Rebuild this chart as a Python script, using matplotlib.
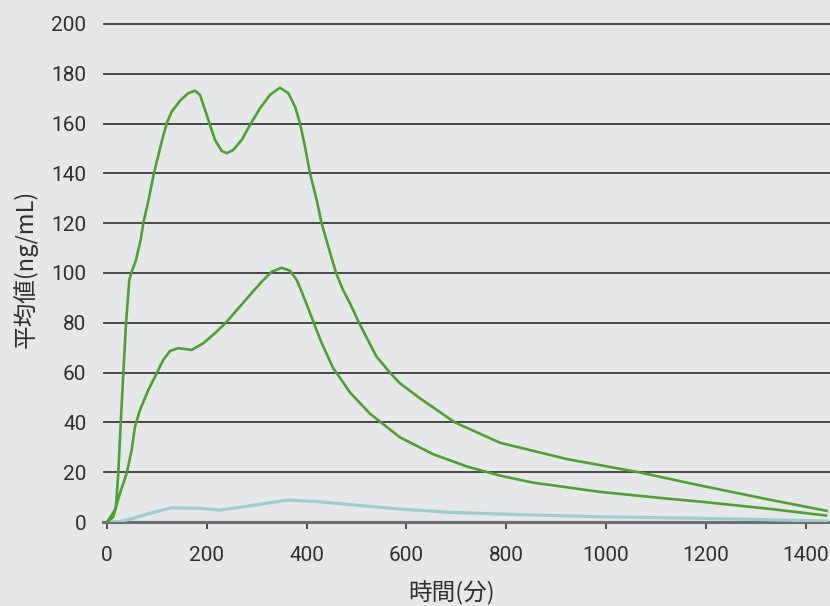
import matplotlib
matplotlib.use("Agg")
import matplotlib.pyplot as plt

# time (min) / mean concentration (ng/mL)
t_high = [0, 12.6, 18, 22.6, 27.5, 32.7, 38.1, 44.7, 49.5, 58.1, 62.7, 67.5, 72.8, 84,
          94, 109.6, 119.6, 129.7, 146.3, 162.9, 176.4, 186.4, 196.4, 206.4, 216.4,
          229.9, 239.9, 253.1, 269.9, 286.4, 306.5, 326.5, 346.6, 363.3, 376.8, 386.8,
          396.8, 406.8, 420.2, 430, 443.5, 459, 473.5, 487, 505, 540, 567, 587, 627,
          697, 788, 921, 1065, 1188, 1322, 1442]
c_high = [0, 2, 6.1, 19.6, 39.6, 59.7, 79.8, 97.2, 100.5, 105.2, 109.2, 113.3, 120, 130,
          140, 152.7, 160.1, 164.8, 169.2, 172.2, 173.2, 171.5, 165.5, 159.4, 153.4,
          149, 148.1, 149.4, 153.4, 159.4, 166.1, 171.5, 174.4, 172.2, 166.8, 160.1,
          150.7, 140, 129.3, 120, 110.6, 100, 93, 87.8, 80, 66.4, 60, 55.7, 49.7,
          40, 31.8, 25.3, 20, 14.7, 9.2, 4.5]

t_mid = [0, 16, 26, 39.5, 49.5, 56.1, 66.1, 82.8, 99.6, 112.8, 126.3, 142.9, 169.7, 193,
         216.4, 239.9, 263.1, 286.6, 310, 330, 350.1, 366.7, 380.2, 396.8, 413.4, 430.3,
         453.5, 470, 487, 527, 587, 654, 721, 788, 854, 988, 1122, 1188, 1322, 1441]
c_mid = [0, 4.8, 11.5, 19.6, 28.9, 38.3, 45, 53, 59.7, 65.1, 68.7, 69.8, 69.1, 71.8,
         75.8, 80.4, 85.8, 91.2, 96.5, 100.5, 102.1, 100.9, 97.2, 89.2, 80.4, 71.8,
         61.7, 57, 52, 43.5, 34, 27.2, 22.3, 18.6, 15.8, 12.1, 9.4, 8.2, 5.4, 2.6]

t_low = [0, 26, 52.7, 86, 129.6, 186, 226, 286.6, 360, 420, 520, 587, 687, 788, 988,
         1188, 1442]
c_low = [0, 0.2, 1.5, 3.5, 5.7, 5.5, 4.8, 6.5, 8.8, 8.2, 6.4, 5.2, 3.9, 3.2, 2.1,
         1.5, 0.4]

x_ticks = [0, 200, 400, 600, 800, 1000, 1200, 1400]
y_ticks = [0, 20, 40, 60, 80, 100, 120, 140, 160, 180, 200]

BG = "#e6e7e9"
GREEN = "#4ba22f"
BLUE = "#9dcdd4"
INK = "#303030"
CJK = ["Noto Sans CJK JP", "DejaVu Sans"]

fig = plt.figure(figsize=(8.3, 6.06), dpi=100, facecolor=BG)
ax = fig.add_axes([0.1241, 0.1386, 0.876, 0.826], facecolor=BG)

ax.plot(t_low, c_low, color=BLUE, lw=2.3, solid_capstyle="round", zorder=3)
ax.plot(t_mid, c_mid, color=GREEN, lw=1.9, solid_joinstyle="round", zorder=4)
ax.plot(t_high, c_high, color=GREEN, lw=1.9, solid_joinstyle="round", zorder=4)

ax.set_xlim(-8, 1449)
ax.set_ylim(0, 201)
ax.set_xticks(x_ticks)
ax.set_yticks(y_ticks)

ax.set_axisbelow(True)
ax.yaxis.grid(True, color="#1e1e1e", lw=1.1)
for s in ("top", "left", "right"):
    ax.spines[s].set_visible(False)
ax.spines["bottom"].set_color("#6e6e6e")
ax.spines["bottom"].set_linewidth(2.2)

ax.tick_params(axis="y", length=0, pad=12, labelsize=15, labelcolor=INK)
ax.tick_params(axis="x", length=5, width=1.2, color=INK, pad=12,
               labelsize=15, labelcolor=INK)
for lbl in ax.get_xticklabels() + ax.get_yticklabels():
    lbl.set_family(["Roboto", "DejaVu Sans"])

ax.set_xlabel("時間(分)", family=CJK, fontsize=17, style="italic", color=INK)
ax.xaxis.set_label_coords(0.479, -0.143)
ax.xaxis.label.set_va("center")
ax.set_ylabel("平均値(ng/mL)", family=CJK, fontsize=17, style="italic", color=INK)
ax.yaxis.set_label_coords(-0.107, 0.506)
ax.yaxis.label.set_va("center")

fig.savefig("out.png", dpi=100, facecolor=BG)
